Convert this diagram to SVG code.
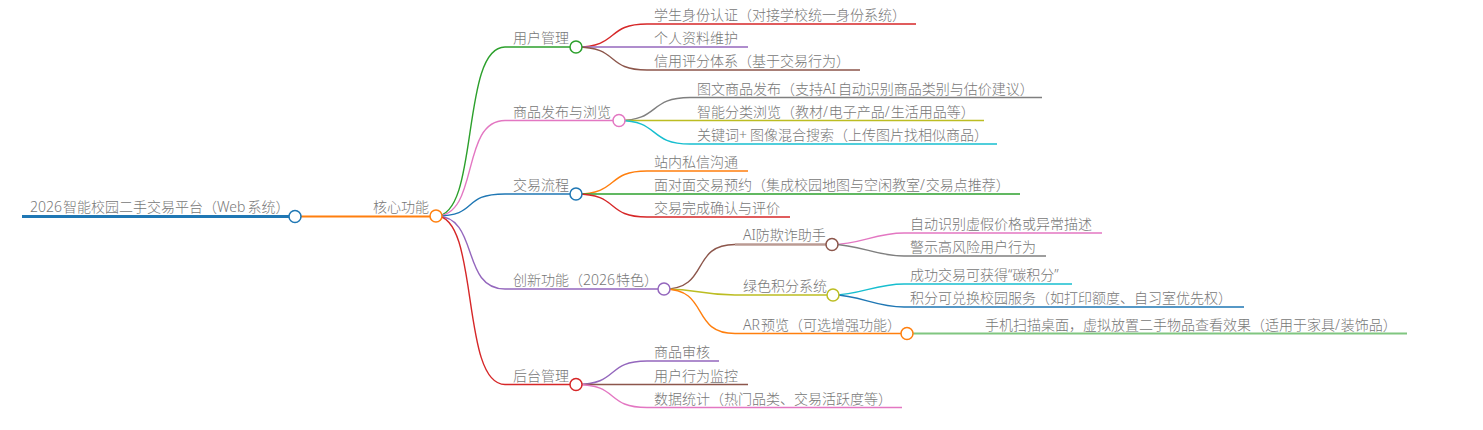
<svg xmlns="http://www.w3.org/2000/svg" width="1483" height="430" viewBox="0 0 1483 430">
<style>
text{font-family:"Noto Sans","Noto Sans CJK SC",sans-serif;font-size:14px;font-weight:300;fill:#777}
#connectors path{fill:none;stroke-width:1.4}
circle{fill:#fff;stroke-width:1.5}
.c0{stroke:#1f77b4}.c1{stroke:#ff7f0e}.c2{stroke:#2ca02c}.c3{stroke:#d62728}.c4{stroke:#9467bd}.c5{stroke:#8c564b}.c6{stroke:#e377c2}.c7{stroke:#7f7f7f}.c8{stroke:#bcbd22}.c9{stroke:#17becf}
</style>
<rect width="1483" height="430" fill="#fff"/>
<g id="connectors">
<path class="c0" style="stroke-width:3" d="M22 216.5H295"/>
<path class="c1" style="stroke-width:2" d="M295 216.5H436"/>
<path class="c2" d="M436 216C480 216 460 47 505 47H576"/>
<path class="c6" d="M436 216C480 216 460 120.5 505 120.5H619"/>
<path class="c0" d="M436 216C480 216 460 194 505 194H576"/>
<path class="c4" d="M436 216C480 216 460 289 505 289H664"/>
<path class="c3" d="M436 216C480 216 460 384.5 505 384.5H576"/>
<path class="c3" d="M576 47C620 47 605 24 647 24H916"/>
<path class="c4" d="M576 47H748"/>
<path class="c5" d="M576 47C620 47 605 70 647 70H860"/>
<path class="c7" d="M619 120.5C660 120.5 648 97.5 690 97.5H1042"/>
<path class="c8" d="M619 120.5H984"/>
<path class="c9" d="M619 120.5C660 120.5 648 144 690 144H997"/>
<path class="c1" d="M576 194C620 194 605 171 647 171H748"/>
<path class="c2" d="M576 194H1020"/>
<path class="c3" d="M576 194C620 194 605 217 647 217H790"/>
<path class="c5" d="M664 289C710 289 690 244.5 735 244.5"/>
<path class="c5" style="opacity:.6;stroke-width:2.5" d="M735 244.5H832"/>
<path class="c8" d="M664 289C700 289 700 295 735 295H833"/>
<path class="c1" d="M664 289C710 289 690 333.5 735 333.5H907"/>
<path class="c6" d="M832 244.5C860 244.5 875 233 904 233H1102"/>
<path class="c7" d="M832 244.5C860 244.5 875 256 904 256H1046"/>
<path class="c9" d="M833 295C860 295 875 284 904 284H1072"/>
<path class="c0" d="M833 295C860 295 875 307 904 307H1244"/>
<path class="c2" style="opacity:.6;stroke-width:2" d="M907 333.5H1407"/>
<path class="c4" d="M576 384.5C620 384.5 605 361 647 361H719"/>
<path class="c5" d="M576 384.5H748"/>
<path class="c6" d="M576 384.5C620 384.5 605 407.5 647 407.5H902"/>
</g>
<g id="n-root"><circle class="c0" cx="295" cy="216.5" r="6"/><text x="30" y="212">2026<tspan dx="1">智能校园二手交易平台（Web</tspan><tspan dx="2">系统）</tspan></text></g>
<g id="n-core"><circle class="c1" cx="436" cy="216" r="6"/><text x="373" y="212">核心功能</text></g>
<g id="n-user"><circle class="c2" cx="576" cy="47" r="6"/><text x="513" y="43">用户管理</text></g>
<g id="n-user-1"><text x="654" y="20">学生身份认证（对接学校统一身份系统）</text></g>
<g id="n-user-2"><text x="654" y="43">个人资料维护</text></g>
<g id="n-user-3"><text x="654" y="66">信用评分体系（基于交易行为）</text></g>
<g id="n-goods"><circle class="c6" cx="619" cy="120.5" r="6"/><text x="513" y="117">商品发布与浏览</text></g>
<g id="n-goods-1"><text x="697" y="94">图文商品发布（支持AI<tspan dx="2">自动识别商品类别与估价建议）</tspan></text></g>
<g id="n-goods-2"><text x="697" y="117">智能分类浏览（教材/<tspan dx="1">电子产品/</tspan><tspan dx="1">生活用品等）</tspan></text></g>
<g id="n-goods-3"><text x="697" y="140">关键词+<tspan dx="3">图像混合搜索（上传图片找相似商品）</tspan></text></g>
<g id="n-trade"><circle class="c0" cx="576" cy="194" r="6"/><text x="513" y="190">交易流程</text></g>
<g id="n-trade-1"><text x="654" y="167">站内私信沟通</text></g>
<g id="n-trade-2"><text x="654" y="190">面对面交易预约（集成校园地图与空闲教室/<tspan dx="1">交易点推荐）</tspan></text></g>
<g id="n-trade-3"><text x="654" y="213">交易完成确认与评价</text></g>
<g id="n-new"><circle class="c4" cx="664" cy="289" r="6"/><text x="513" y="285">创新功能（2026<tspan dx="1">特色）</tspan></text></g>
<g id="n-ai"><circle class="c5" cx="832" cy="244.5" r="6"/><text x="743" y="240">AI防欺诈助手</text></g>
<g id="n-ai-1"><text x="910" y="229">自动识别虚假价格或异常描述</text></g>
<g id="n-ai-2"><text x="910" y="252">警示高风险用户行为</text></g>
<g id="n-green"><circle class="c8" cx="833" cy="295" r="6"/><text x="743" y="291">绿色积分系统</text></g>
<g id="n-green-1"><text x="910" y="280">成功交易可获得“碳积分”</text></g>
<g id="n-green-2"><text x="910" y="303">积分可兑换校园服务（如打印额度、自习室优先权）</text></g>
<g id="n-ar"><circle class="c1" cx="907" cy="333.5" r="6"/><text x="743" y="330">AR<tspan dx="1">预览（可选增强功能）</tspan></text></g>
<g id="n-ar-1"><text x="985" y="330">手机扫描桌面，虚拟放置二手物品查看效果（适用于家具/<tspan dx="1">装饰品）</tspan></text></g>
<g id="n-admin"><circle class="c3" cx="576" cy="384.5" r="6"/><text x="513" y="381">后台管理</text></g>
<g id="n-admin-1"><text x="654" y="357">商品审核</text></g>
<g id="n-admin-2"><text x="654" y="381">用户行为监控</text></g>
<g id="n-admin-3"><text x="654" y="404">数据统计（热门品类、交易活跃度等）</text></g>
</svg>
